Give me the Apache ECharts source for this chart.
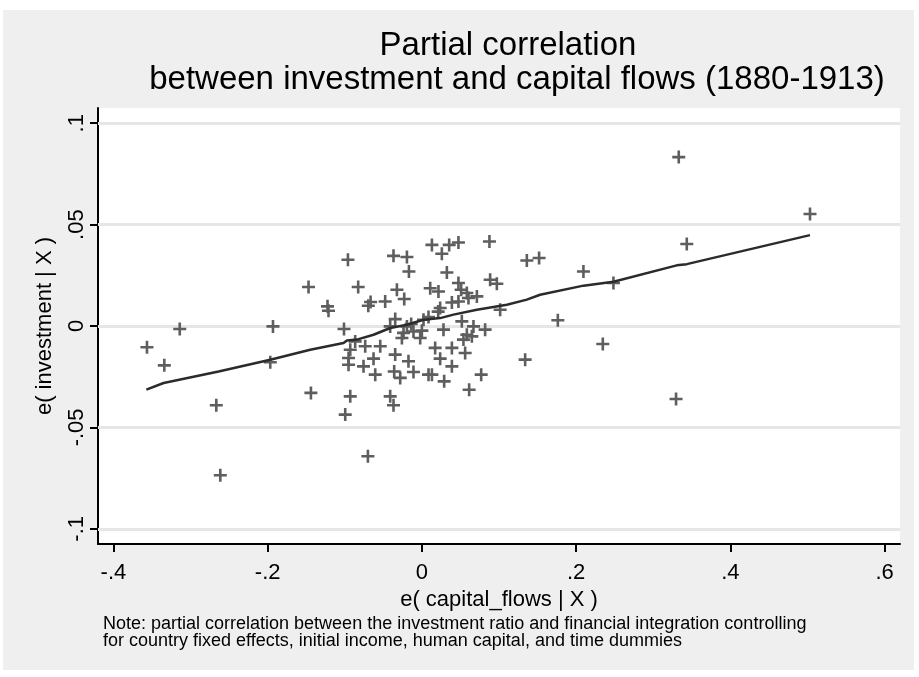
<!DOCTYPE html>
<html>
<head>
<meta charset="utf-8">
<script src="https://cdn.jsdelivr.net/npm/echarts@6/dist/echarts.min.js"></script>
<style>
html,body{margin:0;padding:0;background:#fff;}
#chart{width:919px;height:677px;}
</style>
</head>
<body>
<div id="chart"></div>
<script>
// Residualised capital flows (x) and investment (y) for each observation
const capitalFlowsResid = [
  -0.3565, -0.334, -0.314, -0.2666, -0.2614, -0.1931, -0.1966, -0.147, -0.1439, -0.1224,
  -0.1211, -0.0959, -0.101, -0.0826, -0.0929, -0.0951, -0.0951, -0.0929, -0.0994, -0.0865,
  -0.0757, -0.0735, -0.070, -0.0627, -0.054, -0.0605, -0.0665, -0.0695, -0.0476, -0.0368,
  -0.0194, -0.0168, -0.0324, -0.0229, -0.0346, -0.0411, -0.0194, -0.0238, -0.0109, 0.0021,
  -0.0259, -0.0022, -0.0346, -0.0359, -0.0174, -0.0281, -0.0109, -0.0411, -0.0368, 0.0086,
  0.013, 0.0259, 0.0354, 0.0474, 0.0876, 0.0324, 0.0885, 0.0972, 0.0474, 0.0509,
  0.0108, 0.0215, 0.0583, 0.0713, 0.0389, 0.0474, 0.0604, 0.0237, 0.1015, 0.0086,
  0.028, 0.0669, 0.082, 0.0583, 0.0172, 0.0389, 0.0561, 0.0237, 0.0389, 0.013,
  0.0289, 0.0769, 0.0613, 0.0539, 0.0648, 0.0518, 0.0, -0.0139, 0.0211, 0.1339,
  0.1361, 0.152, 0.1763, 0.2095, 0.2346, 0.2484, 0.3296, 0.3331, 0.3435, 0.5033
];
const investmentResid = [
  -0.0105, -0.0194, -0.0015, -0.0391, -0.0736, -0.0002, -0.0179, 0.0192, -0.033, 0.0097,
  0.0075, 0.0327, -0.0015, 0.0192, -0.0117, -0.0158, -0.0191, -0.0347, -0.0437, -0.0076,
  -0.0199, -0.01, -0.0642, -0.0161, -0.01, -0.024, 0.0118, 0.0100, 0.0121, 0.0346,
  0.034, 0.0269, 0.0179, 0.0133, 0.0034, -0.0002, -0.0002, -0.0034, -0.0027, 0.0031,
  -0.0059, -0.0059, -0.0141, -0.0224, -0.0174, -0.0256, -0.0227, -0.0347, -0.0391, -0.024,
  0.040, 0.0356, 0.040, 0.0412, 0.0417, 0.0264, 0.0228, 0.0208, 0.0212, 0.0179,
  0.0186, 0.017, 0.0163, 0.0146, 0.0116, 0.0121, 0.0138, 0.0089, 0.008, 0.0044,
  -0.0018, -0.0002, -0.0018, -0.0043, -0.0108, -0.0108, -0.0133, -0.0161, -0.0199, -0.024,
  -0.0273, -0.024, -0.0314, -0.0067, -0.0051, 0.0023, -0.0023, 0.001, 0.0071, -0.0166,
  0.0323, 0.0335, 0.0028, 0.0269, -0.0089, 0.0212, -0.036, 0.0833, 0.0404, 0.0552
];
// Smoothed fit line
const fitX = [-0.3573, -0.3349, -0.2636, -0.1966, -0.1448, -0.1016, -0.0972, -0.0843, -0.0627, -0.0411, -0.0194, 0.0021, 0.0237, 0.041, 0.0713, 0.1102, 0.1361, 0.1533, 0.2095, 0.2484, 0.3305, 0.3435, 0.5033];
const fitY = [-0.0314, -0.0281, -0.0224, -0.0166, -0.0117, -0.0084, -0.0071, -0.0067, -0.0043, -0.001, 0.0006, 0.0031, 0.0039, 0.0056, 0.008, 0.0105, 0.013, 0.0154, 0.0199, 0.0218, 0.0299, 0.0305, 0.0448];
// Axis ticks and labels
const xTicks = [-0.4, -0.2, 0, 0.2, 0.4, 0.6];
const xTickLabels = ['-.4', '-.2', '0', '.2', '.4', '.6'];
const yTicks = [-0.1, -0.05, 0, 0.05, 0.1];
const yTickLabels = ['-.1', '-.05', '0', '.05', '.1'];
// Texts
const titleLine1 = 'Partial correlation';
const titleLine2 = 'between investment and capital flows (1880-1913)';
const xName = 'e( capital_flows | X )';
const yName = 'e( investment | X )';
const noteLine1 = 'Note: partial correlation between the investment ratio and financial integration controlling';
const noteLine2 = 'for country fixed effects, initial income, human capital, and time dummies';

const FONT = "'Liberation Sans', Arial, sans-serif";
const scatterData = capitalFlowsResid.map((x, i) => [x, investmentResid[i]]);
const fitData = fitX.map((x, i) => [x, fitY[i]]);
function labelFor(ticks, labels) {
  return v => {
    for (let i = 0; i < ticks.length; i++) if (Math.abs(ticks[i] - v) < 1e-9) return labels[i];
    return '';
  };
}
const plusPath = 'path://M4,0h2v4h4v2h-4v4h-2v-4h-4v-2h4z';

const chart = echarts.init(document.getElementById('chart'), null, {renderer: 'canvas'});
chart.setOption({
  backgroundColor: '#ffffff',
  animation: false,
  graphic: [
    {type: 'rect', z: -10, shape: {x: 3, y: 10, width: 911, height: 660}, style: {fill: '#efefef'}},
    {type: 'text', style: {text: titleLine1, x: 508, y: 46, textAlign: 'center', textVerticalAlign: 'middle', font: "33px " + FONT, fill: '#000'}},
    {type: 'text', style: {text: titleLine2, x: 517, y: 80, textAlign: 'center', textVerticalAlign: 'middle', font: "33px " + FONT, fill: '#000'}},
    {type: 'text', style: {text: noteLine1, x: 103, y: 624, textAlign: 'left', textVerticalAlign: 'middle', font: "18px " + FONT, fill: '#000'}},
    {type: 'text', style: {text: noteLine2, x: 103, y: 641, textAlign: 'left', textVerticalAlign: 'middle', font: "18px " + FONT, fill: '#000'}}
  ],
  grid: {left: 98, top: 108, width: 802, height: 436, show: true, backgroundColor: '#ffffff', borderWidth: 0, containLabel: false},
  xAxis: {
    type: 'value', min: -0.42, max: 0.62,
    name: xName, nameLocation: 'middle', nameGap: 37,
    nameTextStyle: {fontSize: 22, fontFamily: FONT, color: '#000'},
    axisLine: {show: true, onZero: false, lineStyle: {color: '#000', width: 2}},
    axisTick: {show: true, length: 8, customValues: xTicks, lineStyle: {color: '#000', width: 2}},
    axisLabel: {show: true, customValues: xTicks, formatter: labelFor(xTicks, xTickLabels), fontSize: 22, fontFamily: FONT, color: '#000', margin: 18},
    splitLine: {show: false}
  },
  yAxis: {
    type: 'value', min: -0.1075, max: 0.1075,
    name: yName, nameLocation: 'middle', nameGap: 42, nameRotate: 90,
    nameTextStyle: {fontSize: 22, fontFamily: FONT, color: '#000'},
    axisLine: {show: true, onZero: false, lineStyle: {color: '#000', width: 2}},
    axisTick: {show: true, length: 8, customValues: yTicks, lineStyle: {color: '#000', width: 2}},
    axisLabel: {show: true, rotate: 90, customValues: yTicks, formatter: labelFor(yTicks, yTickLabels), fontSize: 22, fontFamily: FONT, color: '#000', margin: 10},
    splitLine: {show: false}
  },
  series: [
    {
      type: 'scatter', data: [], z: 1, silent: true,
      markLine: {
        z: 1, silent: true, symbol: ['none', 'none'], label: {show: false},
        lineStyle: {color: '#e6e6e6', width: 3, type: 'solid'},
        emphasis: {disabled: true},
        data: yTicks.map(v => ({yAxis: v}))
      }
    },
    {
      type: 'scatter', data: scatterData, z: 3,
      symbol: plusPath, symbolSize: 13,
      itemStyle: {color: '#5e5e5e', opacity: 1}
    },
    {
      type: 'line', data: fitData, z: 4, symbol: 'none', smooth: false,
      lineStyle: {color: '#2b2b2b', width: 2.5}
    }
  ]
});
</script>
</body>
</html>
